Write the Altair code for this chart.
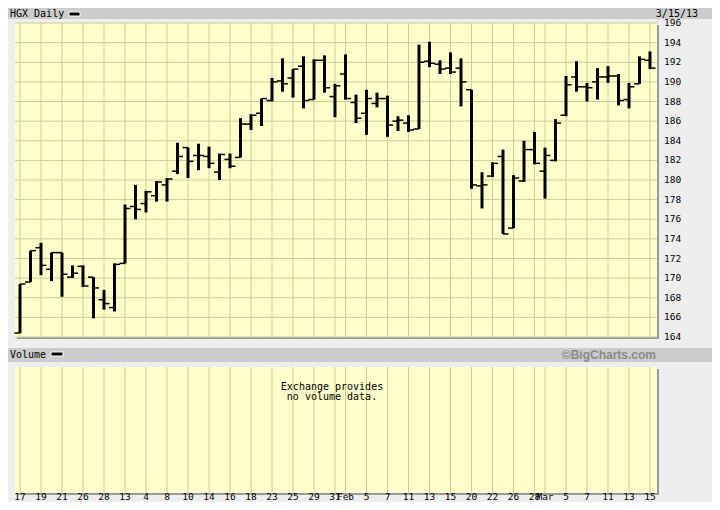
import altair as alt
import pandas as pd

# ---------------- data ----------------
dates = ["Dec 17", "Dec 18", "Dec 19", "Dec 20", "Dec 21", "Dec 24", "Dec 26", "Dec 27", "Dec 28", "Dec 31",
         "Jan 2", "Jan 3", "Jan 4", "Jan 7", "Jan 8", "Jan 9", "Jan 10", "Jan 11", "Jan 14", "Jan 15",
         "Jan 16", "Jan 17", "Jan 18", "Jan 22", "Jan 23", "Jan 24", "Jan 25", "Jan 28", "Jan 29", "Jan 30",
         "Jan 31", "Feb 1", "Feb 4", "Feb 5", "Feb 6", "Feb 7", "Feb 8", "Feb 11", "Feb 12", "Feb 13",
         "Feb 14", "Feb 15", "Feb 19", "Feb 20", "Feb 21", "Feb 22", "Feb 25", "Feb 26", "Feb 27", "Feb 28",
         "Mar 1", "Mar 4", "Mar 5", "Mar 6", "Mar 7", "Mar 8", "Mar 11", "Mar 12", "Mar 13", "Mar 14", "Mar 15"]
opens = [164.4, 169.6, 173.1, 170.9, 172.6, 170.1, 171.2, 170.1, 167.8, 167.0,
         171.5, 177.3, 177.6, 178.4, 179.5, 180.9, 183.3, 182.5, 182.4, 180.8,
         182.1, 182.3, 185.7, 186.8, 188.1, 190.1, 190.4, 191.6, 188.2, 192.2,
         188.5, 190.8, 187.9, 186.8, 187.8, 188.3, 186.0, 185.8, 185.2, 192.1,
         191.8, 191.4, 191.4, 189.2, 179.4, 180.4, 182.4, 175.1, 179.9, 183.1,
         180.9, 182.0, 186.6, 190.5, 189.5, 190.0, 190.5, 190.6, 188.2, 189.8, 192.2]
highs = [169.4, 172.8, 173.6, 172.6, 172.6, 171.3, 171.3, 170.1, 168.8, 171.5,
         177.5, 179.5, 178.9, 179.9, 180.2, 183.8, 183.3, 183.7, 183.4, 182.7,
         182.7, 186.3, 186.7, 188.3, 190.4, 192.4, 191.3, 192.6, 192.3, 192.7,
         189.8, 192.8, 188.7, 189.2, 188.9, 188.6, 186.5, 186.6, 193.8, 194.1,
         192.2, 193.0, 192.4, 189.2, 180.8, 181.8, 183.1, 180.5, 184.0, 184.9,
         183.3, 186.2, 190.6, 192.1, 189.9, 191.4, 191.6, 190.8, 189.9, 192.6, 193.1]
lows = [164.4, 169.6, 170.3, 169.7, 168.1, 170.0, 169.1, 165.9, 166.8, 166.6,
        171.5, 176.0, 176.7, 177.8, 177.8, 180.6, 180.2, 181.0, 181.2, 180.0,
        181.2, 182.3, 185.1, 185.5, 188.0, 189.0, 188.4, 187.3, 188.2, 188.9,
        186.4, 188.2, 185.8, 184.6, 187.4, 184.4, 185.0, 184.9, 185.2, 191.5,
        190.8, 190.8, 187.5, 179.1, 177.1, 180.3, 174.5, 175.1, 179.8, 181.6,
        178.1, 181.9, 186.5, 189.0, 188.0, 188.2, 189.9, 187.6, 187.3, 189.8, 191.3]
closes = [169.4, 172.8, 171.3, 172.6, 170.4, 170.5, 169.2, 169.0, 167.4, 171.4,
          177.1, 177.0, 178.8, 179.8, 180.1, 182.4, 181.9, 182.5, 181.7, 182.6,
          181.4, 185.7, 186.6, 188.3, 190.0, 189.8, 191.3, 188.1, 192.2, 189.4,
          189.6, 188.3, 186.3, 188.3, 188.3, 185.6, 186.1, 185.1, 192.0, 191.9,
          191.3, 191.0, 190.0, 179.5, 179.5, 181.7, 174.5, 180.2, 183.1, 181.7,
          182.5, 185.8, 189.7, 189.5, 189.4, 190.5, 190.6, 188.1, 189.5, 192.3, 191.4]

# x-axis labels (trading-day index -> label)
label_idx = [0, 2, 4, 6, 8, 10, 12, 14, 16, 18, 20, 22, 24, 26, 28, 30, 31,
             33, 35, 37, 39, 41, 43, 45, 47, 49, 50, 52, 54, 56, 58, 60]
label_txt = ["17", "19", "21", "26", "28", "13", "4", "8", "10", "14", "16", "18", "23", "25", "29", "31", "Feb",
             "5", "7", "11", "13", "15", "20", "22", "26", "28", "Mar", "5", "7", "11", "13", "15"]
y_ticks = list(range(164, 197, 2))

# ---------------- style ----------------
W, H = 642, 314
GRID = "#CCCC99"
PANEL = "#FFFFCC"
SHADOW = "#9A9A9A"
BAR = "#CCCCCC"
FONT = "DejaVu Sans Mono"

ohlc = pd.DataFrame({"i": list(range(len(dates))), "date": dates, "open": opens,
                     "high": highs, "low": lows, "close": closes})
labels = pd.DataFrame({"i": label_idx, "lab": label_txt})
yt = pd.DataFrame({"v": y_ticks})
one = pd.DataFrame({"a": [0]})

xs = alt.Scale(domain=[-0.476, 60.667], nice=False, zero=False)
ys = alt.Scale(domain=[164, 196], nice=False, zero=False)
X = alt.X("i:Q", scale=xs, axis=None)


def rect(x1, x2, y1, y2, color, **kw):
    return alt.Chart(one).mark_rect(color=color, **kw).encode(
        x=alt.value(x1), x2=alt.value(x2), y=alt.value(y1), y2=alt.value(y2))


def text(t, x, y, **kw):
    return alt.Chart(one).mark_text(font=FONT, color="black", **kw).encode(
        x=alt.value(x), y=alt.value(y), text=alt.value(t))


# header bars
head1 = rect(-7, 697, -15, -4, BAR)
head2 = rect(-7, 697, 325, 339, BAR)
sw1 = rect(54, 65, -11, -7, "black", stroke="white", strokeWidth=1)
sw2 = rect(36, 48, 329, 333, "black", stroke="white", strokeWidth=1)
t_title = text("HGX Daily", -5, -9.5, align="left", baseline="middle", fontSize=10)
t_date = text("3/15/13", 683, -9.5, align="right", baseline="middle", fontSize=10)
t_vol = text("Volume", -5, 332, align="left", baseline="middle", fontSize=10)
t_bc = alt.Chart(one).mark_text(font="Liberation Sans", fontWeight="bold", fontSize=12,
                                color="#8A8A8A", align="right", baseline="middle").encode(
    x=alt.value(641), y=alt.value(332), text=alt.value("©BigCharts.com"))

# shadows
sh1 = rect(642, 644, 2, 316, SHADOW)
sh2 = rect(2, 644, 314, 316, SHADOW)
# volume panel
vol_bg = rect(0, 642, 344, 470, PANEL)
sh3 = rect(642, 644, 346, 472, SHADOW)
sh4 = rect(2, 644, 470, 472, SHADOW)

# grids
ygrid = alt.Chart(yt).mark_rule(color=GRID, strokeWidth=1).encode(
    y=alt.Y("v:Q", scale=ys, axis=None), x=alt.value(0), x2=alt.value(W))
xgrid = alt.Chart(labels).mark_rule(color=GRID, strokeWidth=1).encode(
    x=X, y=alt.value(0), y2=alt.value(H))
vgrid = alt.Chart(labels).mark_rule(color=GRID, strokeWidth=1).encode(
    x=X, y=alt.value(344), y2=alt.value(470))

# y labels
ylab = alt.Chart(yt).mark_text(font=FONT, fontSize=9.5, color="black", align="left",
                               baseline="middle").encode(
    y=alt.Y("v:Q", scale=ys, axis=None), x=alt.value(649), text=alt.Text("v:Q"))
# x labels
xlab = alt.Chart(labels).mark_text(font=FONT, fontSize=9.5, color="black", align="center",
                                   baseline="middle").encode(
    x=X, y=alt.value(473.5), text="lab:N")

# volume note
vt1 = text("Exchange provides", 317, 364, align="center", baseline="middle", fontSize=10)
vt2 = text("no volume data.", 317, 374, align="center", baseline="middle", fontSize=10)

# OHLC bars
base = alt.Chart(ohlc)
hl = base.mark_rule(color="black", strokeWidth=3).encode(
    x=X, y=alt.Y("low:Q", scale=ys, axis=None), y2="high:Q")
op = base.mark_rule(color="black", strokeWidth=1.5, xOffset=-5.5, x2Offset=0).encode(
    x=X, x2="i:Q", y=alt.Y("open:Q", scale=ys, axis=None))
cl = base.mark_rule(color="black", strokeWidth=1.5, xOffset=0, x2Offset=5.5).encode(
    x=X, x2="i:Q", y=alt.Y("close:Q", scale=ys, axis=None))

chart = alt.layer(
    head1, head2, sw1, sw2, t_title, t_date, t_vol, t_bc,
    sh1, sh2, vol_bg, sh3, sh4,
    ygrid, xgrid, vgrid, ylab, xlab, vt1, vt2,
    hl, op, cl,
).properties(
    width=W, height=H,
    autosize=alt.AutoSizeParams(type="none"),
    padding={"left": 7, "top": 15, "right": 55, "bottom": 165},
    background="#EEEEEE",
).configure_view(fill=PANEL, stroke=None)

chart.save("out.html", embed_options={"renderer": "svg", "actions": False})
